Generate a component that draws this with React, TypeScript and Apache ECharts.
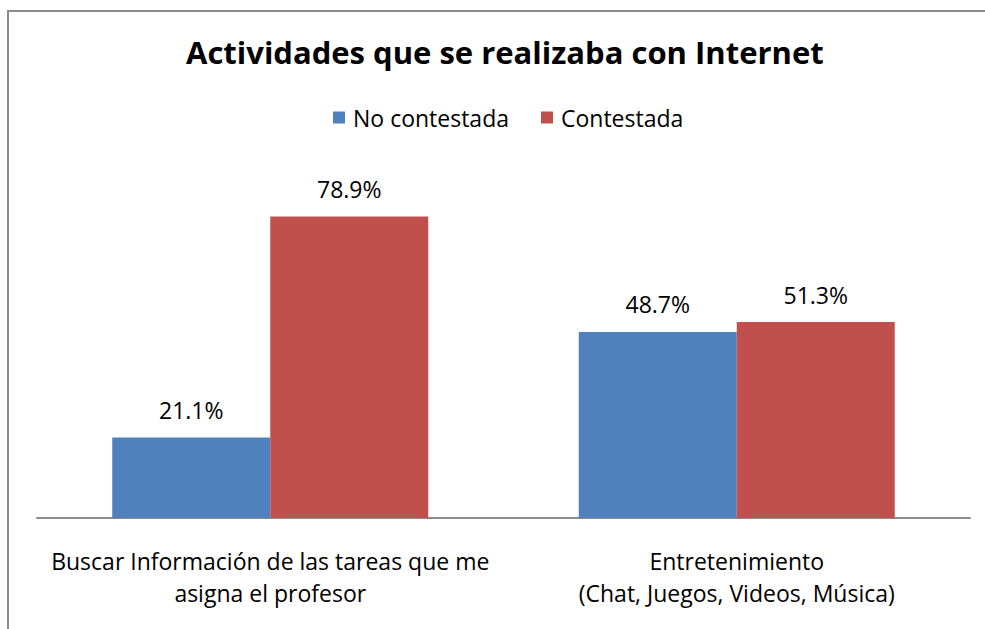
import React, { useEffect, useRef } from "react";
import * as echarts from "echarts";

const titleText = "Actividades que se realizaba con Internet";
const categories = [
  "Buscar Información de las tareas que me\nasigna el profesor",
  "Entretenimiento\n(Chat, Juegos, Videos, Música)",
];
const seriesNames = ["No contestada", "Contestada"];
const noContestada = [21.1, 48.7];
const contestada = [78.9, 51.3];
const colors = ["#4F81BD", "#C0504D"];

const FONT = "Open Sans";

export default function App() {
  const ref = useRef<HTMLDivElement>(null);
  useEffect(() => {
    document.body.style.margin = "0";
    if (!ref.current) return;
    const chart = echarts.init(ref.current, null, { renderer: "svg" });
    const label = {
      show: true,
      position: "top",
      distance: 16,
      fontSize: 23,
      fontFamily: FONT,
      color: "#000",
      formatter: (p: any) => p.value.toFixed(1) + "%",
    };
    chart.setOption({
      animation: false,
      backgroundColor: "#fff",
      textStyle: { fontFamily: FONT },
      title: {
        text: titleText,
        left: 181,
        top: 31,
        textStyle: { fontSize: 31, fontWeight: "bold", color: "#000", fontFamily: FONT },
      },
      legend: {
        data: seriesNames,
        left: 328,
        top: 101,
        icon: "rect",
        itemWidth: 12,
        itemHeight: 12,
        itemGap: 32,
        textStyle: { fontSize: 23, color: "#000", fontFamily: FONT, padding: [0, 0, 0, 3] },
      },
      graphic: [
        {
          type: "rect",
          shape: { x: 8, y: 11, width: 1100, height: 800 },
          style: { fill: "none", stroke: "#8c8c8c", lineWidth: 2 },
          silent: true,
          z: 100,
        },
      ],
      grid: { left: 37, right: 15, top: 136, bottom: 111 },
      xAxis: {
        type: "category",
        data: categories,
        axisLine: { show: true, lineStyle: { color: "#8c8c8c", width: 2 } },
        axisTick: { show: false },
        axisLabel: {
          fontSize: 23,
          lineHeight: 32,
          color: "#000",
          margin: 27,
          interval: 0,
          fontFamily: FONT,
        },
      },
      yAxis: {
        type: "value",
        min: 0,
        max: 100,
        show: false,
        splitLine: { show: false },
      },
      series: [
        {
          name: seriesNames[0],
          type: "bar",
          data: noContestada,
          barWidth: 158,
          barGap: "0%",
          itemStyle: { color: colors[0] },
          label,
        },
        {
          name: seriesNames[1],
          type: "bar",
          data: contestada,
          barWidth: 158,
          barGap: "0%",
          itemStyle: { color: colors[1] },
          label,
        },
      ],
    });
    return () => chart.dispose();
  }, []);
  return <div ref={ref} style={{ width: 985, height: 629 }} />;
}
